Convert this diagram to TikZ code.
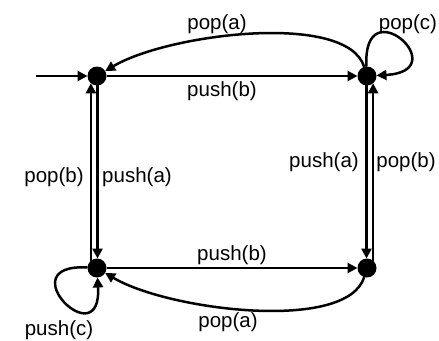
\documentclass[tikz,border=0pt]{standalone}
\usepackage{fontspec}
\setmainfont{Liberation Sans}
\usetikzlibrary{arrows.meta}
\begin{document}
\begin{tikzpicture}[x=1pt,y=-1pt,
  state/.style={circle,fill=black,minimum size=19pt,inner sep=0pt,outer sep=0pt},
  trans/.style={line width=2.5pt,-{Triangle[length=10pt,width=10pt]}},
  lbl/.style={font=\fontsize{20.5}{24}\selectfont,inner sep=0pt}]
\useasboundingbox (0,0) rectangle (439,340);
\node[state] (TL) at (97,76) {};
\node[state] (TR) at (367,76) {};
\node[state] (BL) at (97,268) {};
\node[state] (BR) at (367,268) {};
\coordinate (init) at (36,76);
% edges
\draw[trans] (init) -- (TL);
\draw[trans] (TL) -- (TR);
\draw[trans] (BL) -- (BR);
\draw[trans] (TR) .. controls +(-20,-65) and +(70,-42) .. (TL);
\draw[trans] (BR) .. controls +(-20,65) and +(70,42) .. (BL);
\draw[trans] (TR) .. controls +(-5,-90) and +(90,-5) .. (TR);
\draw[trans] (BL) .. controls +(-90,-5) and +(5,90) .. (BL);
\draw[trans] (BL.130) -- (TL.-130);
\draw[trans] (TL.-87) -- (BL.87);
\draw[trans] (TR.-93) -- (BR.93);
\draw[trans] (BR.50) -- (TR.-50);
% labels
\node[lbl] (l1) at (217,24) {pop(a)};
\node[lbl] (l2) at (222,91) {push(b)};
\node[lbl] (l3) at (408,24) {pop(c)};
\node[lbl] (l4) at (54,177) {pop(b)};
\node[lbl] (l5) at (137,177) {push(a)};
\node[lbl] (l6) at (324,162) {push(a)};
\node[lbl] (l7) at (406,162) {pop(b)};
\node[lbl] (l8) at (232,255) {push(b)};
\node[lbl] (l9) at (228,322) {pop(a)};
\node[lbl] (l10) at (59,330) {push(c)};
\end{tikzpicture}
\end{document}
